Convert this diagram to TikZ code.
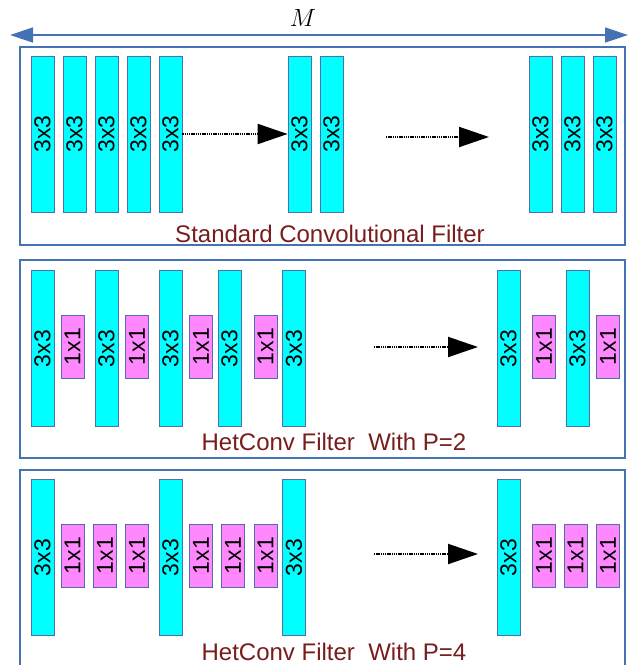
\documentclass[tikz,border=0pt]{standalone}
\usepackage{fontspec}
\setmainfont{Liberation Sans}
\usetikzlibrary{arrows.meta}
\definecolor{frameblue}{RGB}{68,114,180}
\definecolor{barline}{RGB}{80,110,170}
\definecolor{kcyan}{RGB}{0,255,255}
\definecolor{kpink}{RGB}{255,136,255}
\definecolor{capred}{RGB}{120,28,28}
\tikzset{
  kthree/.style={draw=barline, fill=kcyan, line width=0.8pt, minimum width=23pt, minimum height=156pt, inner sep=0pt, font=\fontsize{23}{23}\selectfont},
  kone/.style={draw=barline, fill=kpink, line width=0.8pt, minimum width=23pt, minimum height=63pt, inner sep=0pt, font=\fontsize{23}{23}\selectfont},
  groupbox/.style={draw=frameblue, line width=1.2pt},
  captiontext/.style={text=capred, font=\fontsize{24}{24}\selectfont},
  flow/.style={dash pattern=on 1.4pt off 0.8pt, line width=2pt, -{Triangle[length=30pt,width=20pt]}},
}
\begin{document}
\begin{tikzpicture}[x=1pt, y=-1pt]
    \useasboundingbox (0,0) rectangle (629,665);
    \clip (0,0) rectangle (629,665);
    % width of the filter
    \coordinate (ml) at (10,35);
    \coordinate (mr) at (628,35);
    \draw[frameblue, line width=1.4pt, {Triangle[length=23pt,width=15pt]}-{Triangle[length=23pt,width=15pt]}] (ml) -- (mr);
    \node[font=\fontsize{25}{25}\selectfont] (mlabel) at (303,18) {$M$};

    % standard convolution
    \draw[groupbox] (20,47) rectangle (625,245);
    \foreach \x [count=\i] in {42.5,74.5,106.5,138.5,170.5,299.5,331.5,540.5,572.5,604.5}
        \node[kthree] (a\i) at (\x,134) {\rotatebox{90}{3x3}};
    \draw[flow] (a5) -- (a6);
    \coordinate (fa) at (386,137);
    \coordinate (ta) at (489,137);
    \draw[flow] (fa) -- (ta);
    \node[captiontext] (capa) at (330,234) {Standard Convolutional Filter};

    % HetConv P=2
    \draw[groupbox] (20,260) rectangle (625,458);
    \foreach \x [count=\i] in {42.5,106.5,170.5,229.5,294,508.5,577.5}
        \node[kthree] (b\i) at (\x,348.5) {\rotatebox{90}{3x3}};
    \foreach \x [count=\i] in {72.5,137,201,265.5,544,608}
        \node[kone] (c\i) at (\x,346.5) {\rotatebox{90}{1x1}};
    \coordinate (fb) at (374,347);
    \coordinate (tb) at (478,347);
    \draw[flow] (fb) -- (tb);
    \node[captiontext] (capb) at (334,442) {HetConv Filter\ \ With P=2};

    % HetConv P=4
    \draw[groupbox] (20,470) rectangle (625,690);
    \foreach \x [count=\i] in {42.5,170.5,294,508.5}
        \node[kthree] (d\i) at (\x,557.5) {\rotatebox{90}{3x3}};
    \foreach \x [count=\i] in {72.5,105,137,201,233,265.5,544,575.5,608}
        \node[kone] (e\i) at (\x,555.5) {\rotatebox{90}{1x1}};
    \coordinate (fc) at (374,554);
    \coordinate (tc) at (478,554);
    \draw[flow] (fc) -- (tc);
    \node[captiontext] (capc) at (334,652) {HetConv Filter\ \ With P=4};
\end{tikzpicture}
\end{document}
